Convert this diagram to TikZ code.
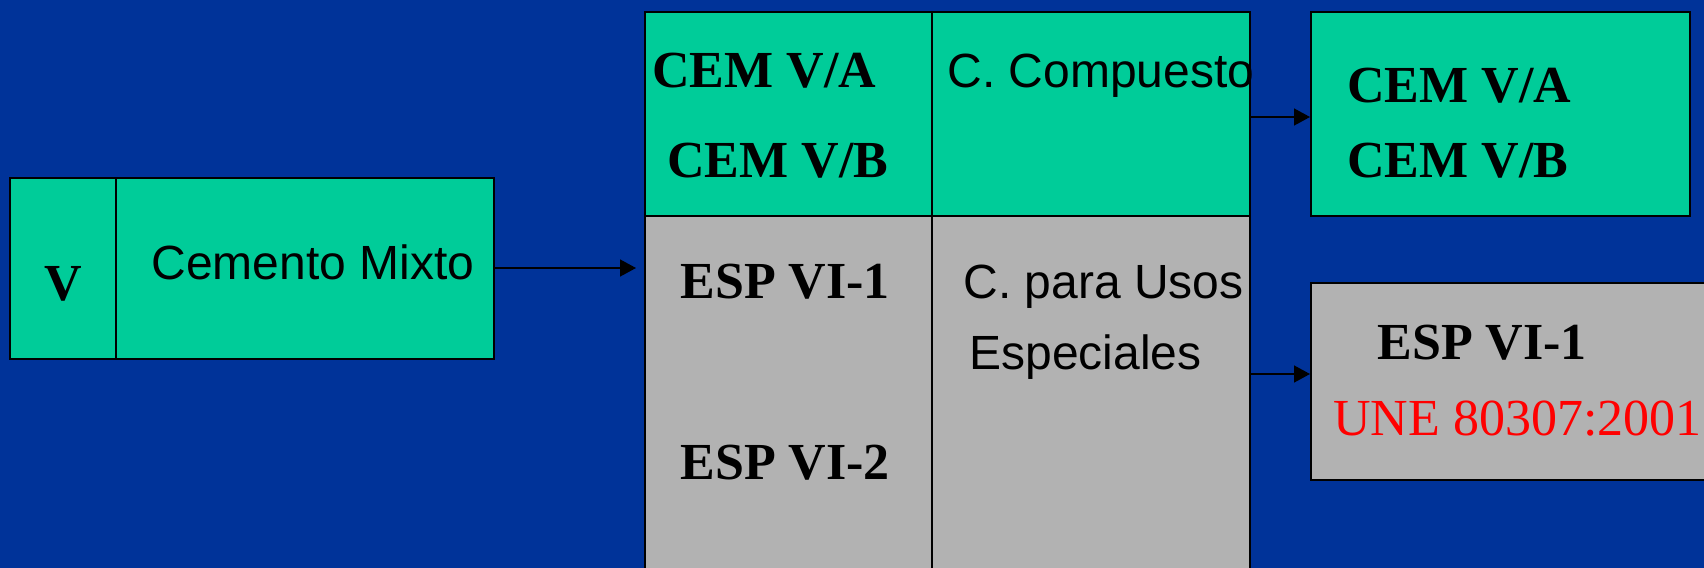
\documentclass[tikz,border=0pt]{standalone}
\usepackage{fontspec}
\setmainfont{Liberation Serif}
\newfontfamily\arialfont{Liberation Sans}
\usepackage{tikz}
\usetikzlibrary{arrows.meta,calc,positioning}
\definecolor{fondo}{RGB}{0,51,153}
\definecolor{verde}{RGB}{0,204,153}
\definecolor{gris}{RGB}{178,178,178}
\begin{document}
\begin{tikzpicture}[x = 0.5pt, y = -0.5pt, >={Triangle[length=8pt,width=8.5pt]}]
	\tikzstyle{caja} = [rectangle, draw = black, line width = 1pt, inner sep = 0pt]
	\tikzstyle{verdecaja} = [caja, fill = verde]
	\tikzstyle{griscaja} = [caja, fill = gris]
	\tikzstyle{negrita} = [inner sep = 0pt, font = \fontsize{26pt}{30pt}\selectfont\bfseries, anchor = base west]
	\tikzstyle{sans} = [inner sep = 0pt, font = \arialfont\fontsize{24pt}{28pt}\selectfont, anchor = base west]
	\tikzstyle{flecha} = [->, line width = 0.75pt]
\useasboundingbox (0,0) rectangle (1704,568);
\fill[fondo] (0,0) rectangle (1704,568);
% cajas
\node[verdecaja, minimum width = 53pt, minimum height = 90.5pt] (1) at (63, 268.5) {};
\node[verdecaja, minimum width = 189pt, minimum height = 90.5pt] (2) at (305, 268.5) {};
\node[verdecaja, minimum width = 143.5pt, minimum height = 102pt] (3) at (788.5, 114) {};
\node[verdecaja, minimum width = 159pt, minimum height = 102pt] (4) at (1091, 114) {};
\node[griscaja, minimum width = 143.5pt, minimum height = 182pt] (5) at (788.5, 398) {};
\node[griscaja, minimum width = 159pt, minimum height = 182pt] (6) at (1091, 398) {};
\node[verdecaja, minimum width = 189.5pt, minimum height = 102pt] (7) at (1500.5, 114) {};
\node[griscaja, minimum width = 204.5pt, minimum height = 98.5pt] (8) at (1515.5, 381.5) {};
% textos
\node[negrita, anchor = base] (l1) at (63, 300) {V};
\node[sans] (l2) at (151, 279) {Cemento Mixto};
\node[negrita] (l3) at (652, 87) {CEM V/A};
\node[negrita] (l4) at (667, 177) {CEM V/B};
\node[sans] (l5) at (947, 87) {C. Compuesto};
\node[negrita] (l6) at (680, 298) {ESP VI-1};
\node[negrita] (l7) at (680, 479) {ESP VI-2};
\node[sans] (l8) at (963, 298) {C. para Usos};
\node[sans] (l9) at (969, 369) {Especiales};
\node[negrita] (l10) at (1347, 102) {CEM V/A};
\node[negrita] (l11) at (1347, 177) {CEM V/B};
\node[negrita] (l12) at (1377, 359) {ESP VI-1};
\node[negrita, font = \fontsize{26pt}{30pt}\selectfont, text = red] (l13) at (1333, 435) {UNE 80307:2001};
% flechas
\coordinate (a1) at (636, 268);
\coordinate (a2) at (0, 117);
\coordinate (a3) at (0, 374);
	\path[draw][flecha] (2.east |- a1) -- (a1);
	\path[draw][flecha] (4.east |- a2) -- (7.west |- a2);
	\path[draw][flecha] (6.east |- a3) -- (8.west |- a3);
\end{tikzpicture}
\end{document}
